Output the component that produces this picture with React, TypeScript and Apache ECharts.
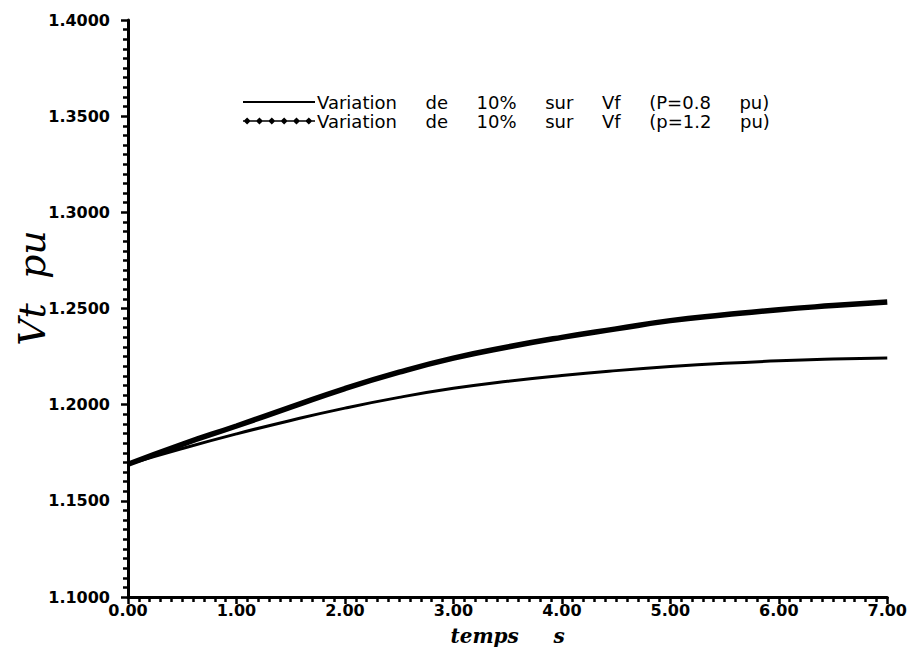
import { useEffect, useRef } from "react";
import * as echarts from "echarts";

const times = [0, 0.5, 1, 1.5, 2, 2.5, 3, 3.5, 4, 4.5, 5, 5.5, 6, 6.5, 7];
const vtP08 = [1.169, 1.1772, 1.1848, 1.1918, 1.1982, 1.2038, 1.2085, 1.2122, 1.2152, 1.2177, 1.2198, 1.2215, 1.2228, 1.2237, 1.2243];
const vtP12 = [1.169, 1.1794, 1.1889, 1.1987, 1.2084, 1.2169, 1.2242, 1.23, 1.235, 1.2394, 1.2437, 1.2467, 1.2494, 1.2515, 1.2534];
const seriesNames = [
  "Variation     de     10%     sur     Vf     (P=0.8     pu)",
  "Variation     de     10%     sur     Vf     (p=1.2     pu)",
];
const yTitle = "Vt  pu";
const xTitle = "temps     s";

const lineIcon = "path://M0,4.1L70,4.1L70,5.9L0,5.9Z";
const starIcon =
  "path://M0,4.2L70,4.2L70,5.8L0,5.8Z" +
  "M4,1.5L7.5,5L4,8.5L0.5,5Z" +
  "M16,1.5L19.5,5L16,8.5L12.5,5Z" +
  "M28,1.5L31.5,5L28,8.5L24.5,5Z" +
  "M40,1.5L43.5,5L40,8.5L36.5,5Z" +
  "M52,1.5L55.5,5L52,8.5L48.5,5Z" +
  "M64,1.5L67.5,5L64,8.5L60.5,5Z";

export default function App() {
  const ref = useRef<HTMLDivElement>(null);
  useEffect(() => {
    if (!ref.current) return;
    const chart = echarts.init(ref.current, null, { renderer: "svg" });
    const labelFont = {
      color: "#000",
      fontFamily: "DejaVu Sans",
      fontWeight: "bold" as const,
      fontSize: 16,
    };
    chart.setOption({
      animation: false,
      backgroundColor: "#fff",
      grid: { left: 128, right: 17, top: 20, bottom: 55, containLabel: false },
      legend: {
        orient: "vertical",
        left: 238,
        top: 88,
        itemGap: 1,
        itemWidth: 72,
        itemHeight: 10,
        textStyle: {
          color: "#000",
          fontFamily: "DejaVu Sans",
          fontSize: 18,
          lineHeight: 18,
          padding: [0, 0, 0, -3],
        },
        data: [
          { name: seriesNames[0], icon: lineIcon },
          { name: seriesNames[1], icon: starIcon },
        ],
      },
      xAxis: {
        type: "value",
        min: 0,
        max: 7,
        interval: 1,
        name: xTitle,
        nameLocation: "middle",
        nameGap: 29,
        nameTextStyle: {
          color: "#000",
          fontFamily: "DejaVu Serif",
          fontStyle: "italic",
          fontWeight: "bold",
          fontSize: 20,
        },
        axisLine: { show: true, onZero: false, lineStyle: { color: "#000", width: 3 } },
        axisTick: { show: true, inside: false, length: 7, lineStyle: { color: "#000", width: 2.5 } },
        minorTick: { show: true, splitNumber: 10, length: 5, lineStyle: { color: "#000", width: 2.5 } },
        splitLine: { show: false },
        axisLabel: { ...labelFont, margin: 5, formatter: (v: number) => v.toFixed(2) },
      },
      yAxis: {
        type: "value",
        min: 1.1,
        max: 1.4,
        interval: 0.05,
        axisLine: { show: true, onZero: false, lineStyle: { color: "#000", width: 3 } },
        axisTick: { show: true, inside: false, length: 7, lineStyle: { color: "#000", width: 2.5 } },
        minorTick: { show: true, splitNumber: 10, length: 5, lineStyle: { color: "#000", width: 2.5 } },
        splitLine: { show: false },
        axisLabel: { ...labelFont, margin: 18, formatter: (v: number) => v.toFixed(4) },
      },
      graphic: [
        {
          type: "text",
          x: 32,
          y: 288,
          rotation: Math.PI / 2,
          style: {
            text: yTitle,
            fill: "#000",
            font: "italic 38px 'DejaVu Serif', serif",
            align: "center",
            verticalAlign: "middle",
          },
        },
      ],
      series: [
        {
          name: seriesNames[0],
          type: "line",
          smooth: true,
          symbol: "none",
          lineStyle: { color: "#000", width: 3 },
          itemStyle: { color: "#000" },
          data: times.map((t, i) => [t, vtP08[i]]),
        },
        {
          name: seriesNames[1],
          type: "line",
          smooth: true,
          symbol: "none",
          lineStyle: { color: "#000", width: 5.5 },
          itemStyle: { color: "#000" },
          data: times.map((t, i) => [t, vtP12[i]]),
        },
      ],
    });
    return () => chart.dispose();
  }, []);
  return (
    <div
      ref={ref}
      style={{ position: "fixed", left: 0, top: 0, width: 910, height: 652, background: "#fff" }}
    />
  );
}
